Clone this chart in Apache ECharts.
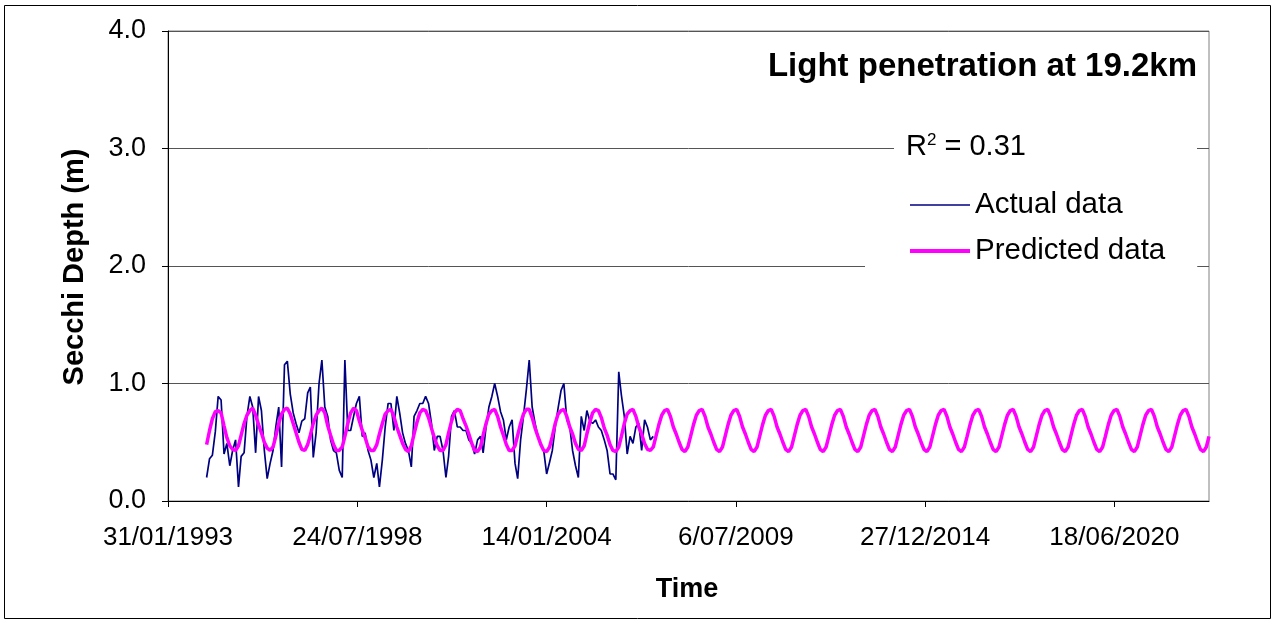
<!DOCTYPE html>
<html>
<head>
<meta charset="utf-8">
<script src="https://cdn.jsdelivr.net/npm/echarts@6/dist/echarts.min.js"></script>
<style>
  html, body { margin: 0; padding: 0; background: #fff; }
  #chart { width: 1276px; height: 623px; }
</style>
</head>
<body>
<div id="chart"></div>
<script>
// Secchi depth (m), monthly samples starting March 1994
const actualStart = [1994, 3];
const actualDepth = [
  0.20, 0.36, 0.39, 0.59, 0.89, 0.86, 0.40, 0.49, 0.30, 0.43,
  0.52, 0.12, 0.38, 0.41, 0.72, 0.89, 0.80, 0.41, 0.89, 0.77,
  0.43, 0.19, 0.32, 0.43, 0.63, 0.80, 0.29, 1.16, 1.19, 0.91,
  0.75, 0.66, 0.58, 0.68, 0.70, 0.92, 0.97, 0.37, 0.58, 1.00,
  1.20, 0.80, 0.72, 0.52, 0.43, 0.41, 0.26, 0.20, 1.20, 0.60,
  0.60, 0.72, 0.83, 0.89, 0.55, 0.58, 0.43, 0.35, 0.20, 0.32,
  0.12, 0.35, 0.63, 0.83, 0.83, 0.60, 0.89, 0.75, 0.58, 0.49,
  0.43, 0.29, 0.72, 0.77, 0.83, 0.83, 0.89, 0.83, 0.66, 0.43,
  0.55, 0.55, 0.43, 0.20, 0.38, 0.72, 0.77, 0.63, 0.63, 0.60,
  0.60, 0.52, 0.49, 0.40, 0.52, 0.55, 0.41, 0.63, 0.80, 0.89,
  1.00, 0.89, 0.76, 0.69, 0.52, 0.63, 0.69, 0.32, 0.19, 0.52,
  0.72, 0.95, 1.20, 0.80, 0.66, 0.55, 0.47, 0.43, 0.23, 0.33,
  0.43, 0.63, 0.79, 0.94, 1.00, 0.69, 0.63, 0.43, 0.30, 0.20,
  0.72, 0.60, 0.77, 0.68, 0.66, 0.69, 0.63, 0.60, 0.52, 0.43,
  0.23, 0.23, 0.18, 1.10, 0.90, 0.72, 0.40, 0.55, 0.49, 0.63,
  0.66, 0.43, 0.69, 0.63, 0.52, 0.55
];

// Modelled Secchi depth (m), monthly from March 1994
const predictedStart = [1994, 3];
const predictedDepth = [
  /* 1994 */                   0.48, 0.60, 0.70, 0.76, 0.77, 0.75, 0.64, 0.54, 0.47, 0.44,
  /* 1995 */ 0.43, 0.47, 0.56, 0.66, 0.73, 0.77, 0.79, 0.73, 0.65, 0.58, 0.50, 0.45,
  /* 1996 */ 0.43, 0.46, 0.55, 0.66, 0.74, 0.78, 0.79, 0.74, 0.66, 0.58, 0.50, 0.44,
  /* 1997 */ 0.43, 0.48, 0.56, 0.66, 0.73, 0.77, 0.79, 0.75, 0.64, 0.56, 0.48, 0.43,
  /* 1998 */ 0.43, 0.46, 0.55, 0.66, 0.75, 0.79, 0.77, 0.68, 0.60, 0.54, 0.46, 0.43,
  /* 1999 */ 0.43, 0.48, 0.57, 0.66, 0.74, 0.77, 0.78, 0.72, 0.63, 0.56, 0.49, 0.44,
  /* 2000 */ 0.42, 0.47, 0.57, 0.67, 0.75, 0.78, 0.77, 0.71, 0.62, 0.54, 0.47, 0.43,
  /* 2001 */ 0.43, 0.48, 0.58, 0.68, 0.75, 0.78, 0.77, 0.70, 0.64, 0.57, 0.49, 0.43,
  /* 2002 */ 0.42, 0.46, 0.56, 0.66, 0.74, 0.77, 0.78, 0.72, 0.63, 0.56, 0.48, 0.43,
  /* 2003 */ 0.43, 0.47, 0.56, 0.66, 0.74, 0.78, 0.78, 0.71, 0.62, 0.55, 0.48, 0.43,
  /* 2004 */ 0.42, 0.46, 0.55, 0.66, 0.74, 0.77, 0.78, 0.72, 0.63, 0.57, 0.49, 0.44,
  /* 2005 */ 0.43, 0.47, 0.57, 0.67, 0.75, 0.78, 0.77, 0.71, 0.62, 0.56, 0.48, 0.43,
  /* 2006 */ 0.42, 0.46, 0.55, 0.66, 0.74, 0.77, 0.78, 0.72, 0.63, 0.57, 0.49, 0.44,
  /* 2007 */ 0.43, 0.46, 0.55, 0.65, 0.73, 0.77, 0.78, 0.72, 0.63, 0.57, 0.50, 0.44,
  /* 2008 */ 0.42, 0.46, 0.55, 0.65, 0.73, 0.77, 0.78, 0.72, 0.63, 0.57, 0.50, 0.44,
  /* 2009 */ 0.42, 0.46, 0.55, 0.65, 0.73, 0.77, 0.78, 0.72, 0.63, 0.57, 0.50, 0.44,
  /* 2010 */ 0.42, 0.46, 0.55, 0.65, 0.73, 0.77, 0.78, 0.72, 0.63, 0.57, 0.50, 0.44,
  /* 2011 */ 0.42, 0.46, 0.55, 0.65, 0.73, 0.77, 0.78, 0.72, 0.63, 0.57, 0.50, 0.44,
  /* 2012 */ 0.42, 0.46, 0.55, 0.65, 0.73, 0.77, 0.78, 0.72, 0.63, 0.57, 0.50, 0.44,
  /* 2013 */ 0.42, 0.46, 0.55, 0.65, 0.73, 0.77, 0.78, 0.72, 0.63, 0.57, 0.50, 0.44,
  /* 2014 */ 0.42, 0.46, 0.55, 0.65, 0.73, 0.77, 0.78, 0.72, 0.63, 0.57, 0.50, 0.44,
  /* 2015 */ 0.42, 0.46, 0.55, 0.65, 0.73, 0.77, 0.78, 0.72, 0.63, 0.57, 0.50, 0.44,
  /* 2016 */ 0.42, 0.46, 0.55, 0.65, 0.73, 0.77, 0.78, 0.72, 0.63, 0.57, 0.50, 0.44,
  /* 2017 */ 0.42, 0.46, 0.55, 0.65, 0.73, 0.77, 0.78, 0.72, 0.63, 0.57, 0.50, 0.44,
  /* 2018 */ 0.42, 0.46, 0.55, 0.65, 0.73, 0.77, 0.78, 0.72, 0.63, 0.57, 0.50, 0.44,
  /* 2019 */ 0.42, 0.46, 0.55, 0.65, 0.73, 0.77, 0.78, 0.72, 0.63, 0.57, 0.50, 0.44,
  /* 2020 */ 0.42, 0.46, 0.55, 0.65, 0.73, 0.77, 0.78, 0.72, 0.63, 0.57, 0.50, 0.44,
  /* 2021 */ 0.42, 0.46, 0.55, 0.65, 0.73, 0.77, 0.78, 0.72, 0.63, 0.57, 0.50, 0.44,
  /* 2022 */ 0.42, 0.46, 0.55, 0.65, 0.73, 0.77, 0.78, 0.72, 0.63, 0.57, 0.50, 0.44,
  /* 2023 */ 0.42, 0.46, 0.55
];

// Axis range as spreadsheet day serials (31/01/1993 .. 12/02/2023), ticks every 2000 days
const xMin = 34000;
const xMax = 45000;
const xStep = 2000;
const yTicks = [0, 1, 2, 3, 4];

const titleText = 'Light penetration at 19.2km';
const rSquared = '0.31';

const DAY_MS = 86400000;
const EPOCH = Date.UTC(1899, 11, 30);

function serialOf(year, month, day) {
  return (Date.UTC(year, month - 1, day) - EPOCH) / DAY_MS;
}
function labelOf(serial) {
  const d = new Date(EPOCH + serial * DAY_MS);
  return d.getUTCDate() + '/' + String(d.getUTCMonth() + 1).padStart(2, '0') + '/' + d.getUTCFullYear();
}
// pair each monthly value with the serial of the 15th of its month
function monthly(start, values) {
  return values.map((v, i) => {
    const m0 = start[1] - 1 + i;
    return [serialOf(start[0] + Math.floor(m0 / 12), (m0 % 12) + 1, 15), v];
  });
}

const FONT = '"Liberation Sans", Arial, sans-serif';
const ACTUAL_W = 1.7;
const PREDICTED_W = 3.5;
const chart = echarts.init(document.getElementById('chart'), null, { renderer: 'canvas' });

chart.setOption({
  animation: false,
  backgroundColor: '#ffffff',
  textStyle: { fontFamily: FONT, color: '#000' },
  title: {
    text: titleText,
    right: 79,
    top: 50,
    padding: 0,
    textStyle: { fontFamily: FONT, fontSize: 33, fontWeight: 'bold', color: '#000' }
  },
  grid: {
    left: 168, right: 67, top: 31, bottom: 122,
    show: true, borderColor: '#808080', borderWidth: 1, backgroundColor: 'transparent'
  },
  legend: {
    orient: 'vertical',
    left: 865,
    top: 185,
    padding: [5, 32, 8, 43],
    backgroundColor: '#ffffff',
    itemWidth: 60,
    itemHeight: 14,
    itemGap: 16,
    itemStyle: { opacity: 0 },
    textStyle: { fontFamily: FONT, fontSize: 29.5, color: '#000' },
    data: [
      { name: 'Actual data', lineStyle: { width: ACTUAL_W } },
      { name: 'Predicted data', lineStyle: { width: 4 } }
    ]
  },
  xAxis: {
    type: 'value',
    min: xMin, max: xMax, interval: xStep,
    axisLine: { show: true, lineStyle: { color: '#000', width: 1 } },
    axisTick: { show: true, inside: false, length: 6, lineStyle: { color: '#000' } },
    axisLabel: {
      margin: 24, fontSize: 26, fontFamily: FONT, color: '#000',
      showMaxLabel: false,
      formatter: v => labelOf(v)
    },
    splitLine: { show: false }
  },
  yAxis: {
    type: 'value',
    min: yTicks[0], max: yTicks[yTicks.length - 1], interval: 1,
    axisLine: { show: true, lineStyle: { color: '#000', width: 1 } },
    axisTick: { show: true, inside: false, length: 6, lineStyle: { color: '#000' } },
    axisLabel: { margin: 22, fontSize: 27, fontFamily: FONT, color: '#000', formatter: v => v.toFixed(1) },
    splitLine: { show: true, lineStyle: { color: '#555', width: 1 } }
  },
  series: [
    {
      name: 'Actual data',
      type: 'line',
      data: monthly(actualStart, actualDepth),
      symbol: 'none',
      color: '#000080',
      lineStyle: { color: '#000080', width: ACTUAL_W },
      z: 2
    },
    {
      name: 'Predicted data',
      type: 'line',
      data: monthly(predictedStart, predictedDepth),
      symbol: 'none',
      color: '#ff00ff',
      lineStyle: { color: '#ff00ff', width: PREDICTED_W },
      z: 3
    }
  ],
  graphic: [
    {
      type: 'rect', z: 100, silent: true,
      shape: { x: 4.5, y: 5.5, width: 1266, height: 613 },
      style: { fill: 'none', stroke: '#000', lineWidth: 1 }
    },
    {
      type: 'rect', z: 90, silent: true,
      shape: { x: 894, y: 128, width: 303, height: 40 },
      style: { fill: '#fff' }
    },
    {
      type: 'text', z: 91, silent: true,
      x: 906, y: 147,
      style: {
        text: '{b|R}{s|2}{b| = ' + rSquared + '}',
        verticalAlign: 'middle',
        rich: {
          b: { fontFamily: FONT, fontSize: 29, fill: '#000' },
          s: { fontFamily: FONT, fontSize: 17, fill: '#000', verticalAlign: 'top', padding: [0, 0, 14, 0] }
        }
      }
    },
    {
      type: 'text', z: 91, silent: true,
      x: 687, y: 590,
      style: {
        text: 'Time', align: 'center', verticalAlign: 'middle',
        font: 'bold 27px ' + FONT, fill: '#000'
      }
    },
    {
      type: 'text', z: 91, silent: true,
      x: 75, y: 267, rotation: Math.PI / 2,
      style: {
        text: 'Secchi Depth (m)', align: 'center', verticalAlign: 'middle',
        font: 'bold 29px ' + FONT, fill: '#000'
      }
    }
  ]
});
</script>
</body>
</html>
